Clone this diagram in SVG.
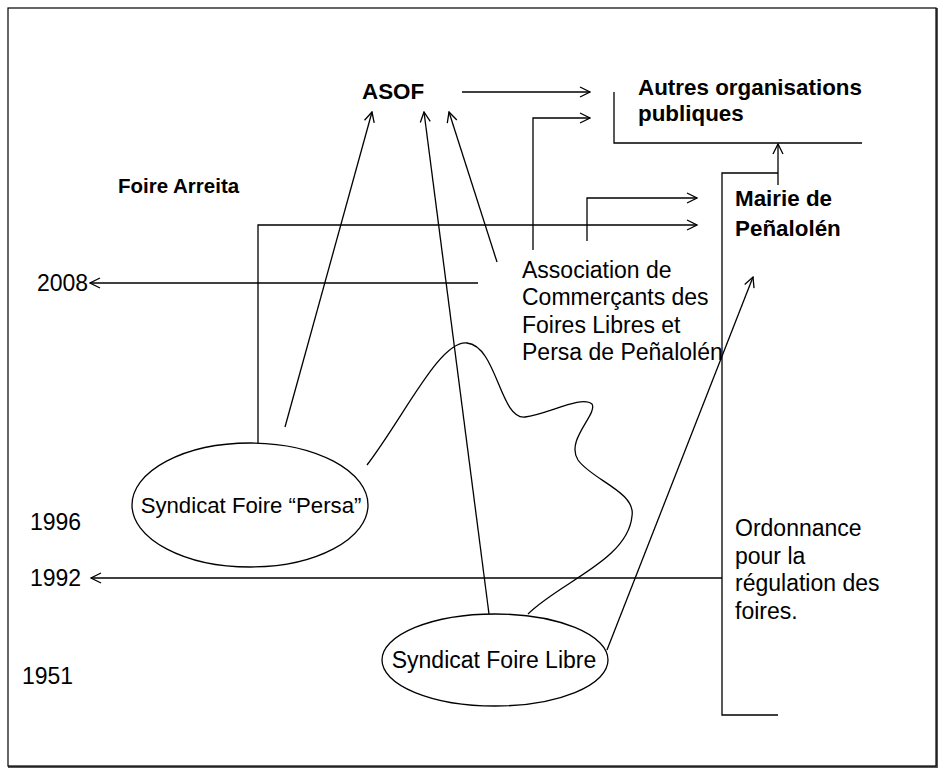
<svg xmlns="http://www.w3.org/2000/svg" width="947" height="772" viewBox="0 0 947 772">
<style>
text{font-family:"Liberation Sans",Arial,sans-serif;font-size:23px;fill:#000}
.b{font-weight:bold;font-size:22.4px}
.ln{fill:none;stroke:#000;stroke-width:1.3}
.arr{marker-end:url(#ah)}
.ell{fill:#fff;stroke:#000;stroke-width:1.3}
</style>
<defs>
<marker id="ah" viewBox="0 0 12 12" refX="11" refY="6" markerWidth="12" markerHeight="12" markerUnits="userSpaceOnUse" orient="auto">
<path d="M1,1 L11,6 L1,11" fill="none" stroke="#000" stroke-width="1.3"/>
</marker>
</defs>
<rect x="9" y="9" width="928" height="758" fill="none" stroke="#555" stroke-width="2"/>
<rect x="8" y="8" width="928" height="758" fill="#fff" stroke="#000" stroke-width="1.2"/>
<g id="connectors">
<line class="ln arr" x1="462" y1="92" x2="590" y2="92"/>
<polyline class="ln arr" points="533,250 533,118 590,118"/>
<polyline class="ln" points="614,92 614,143 862,143"/>
<line class="ln arr" x1="778" y1="185" x2="778" y2="144"/>
<polyline class="ln" points="778,173 722,173 722,715 778,715"/>
<polyline class="ln arr" points="258,443 258,225 697,225"/>
<polyline class="ln arr" points="587,241 587,198 697,198"/>
<line class="ln arr" x1="285" y1="427" x2="372" y2="112"/>
<line class="ln arr" x1="489" y1="614" x2="424" y2="112"/>
<line class="ln arr" x1="497" y1="262" x2="449" y2="112"/>
<line class="ln arr" x1="607" y1="650" x2="753" y2="277"/>
<line class="ln arr" x1="478" y1="283" x2="90" y2="283"/>
<line class="ln arr" x1="722" y1="578" x2="91" y2="578"/>
<path class="ln" d="M367,465 C405,415 440,340 467,343 C497,346 500,420 525,417 C548,414 582,395 592,404 C598,414 565,440 578,460 C592,480 636,492 632,516 C628,560 560,582 528,614"/>
</g>
<g id="asof"><text class="b" x="362" y="99">ASOF</text></g>
<g id="autres"><text class="b" x="638" y="95">Autres organisations</text><text class="b" x="638" y="121">publiques</text></g>
<g id="foire-arreita"><text class="b" x="118" y="193" style="font-size:20.5px">Foire Arreita</text></g>
<g id="mairie"><text class="b" x="735" y="206">Mairie de</text><text class="b" x="735" y="236">Peñalolén</text></g>
<g id="y2008"><text x="37" y="291">2008</text></g>
<g id="association"><text x="522" y="278">Association de</text><text x="522" y="305">Commerçants des</text><text x="522" y="333">Foires Libres et</text><text x="522" y="360">Persa de Peñalolén</text></g>
<g id="y1996"><text x="30" y="530">1996</text></g>
<g id="persa"><ellipse class="ell" cx="250" cy="505" rx="118" ry="62"/><text x="251" y="513" text-anchor="middle" style="font-size:22.2px">Syndicat Foire “Persa”</text></g>
<g id="y1992"><text x="30" y="586">1992</text></g>
<g id="ordonnance"><text x="735" y="536">Ordonnance</text><text x="735" y="564">pour la</text><text x="735" y="591">régulation des</text><text x="735" y="619">foires.</text></g>
<g id="y1951"><text x="22" y="684">1951</text></g>
<g id="libre"><ellipse class="ell" cx="495" cy="660" rx="113" ry="46"/><text x="494" y="668" text-anchor="middle">Syndicat Foire Libre</text></g>
</svg>
